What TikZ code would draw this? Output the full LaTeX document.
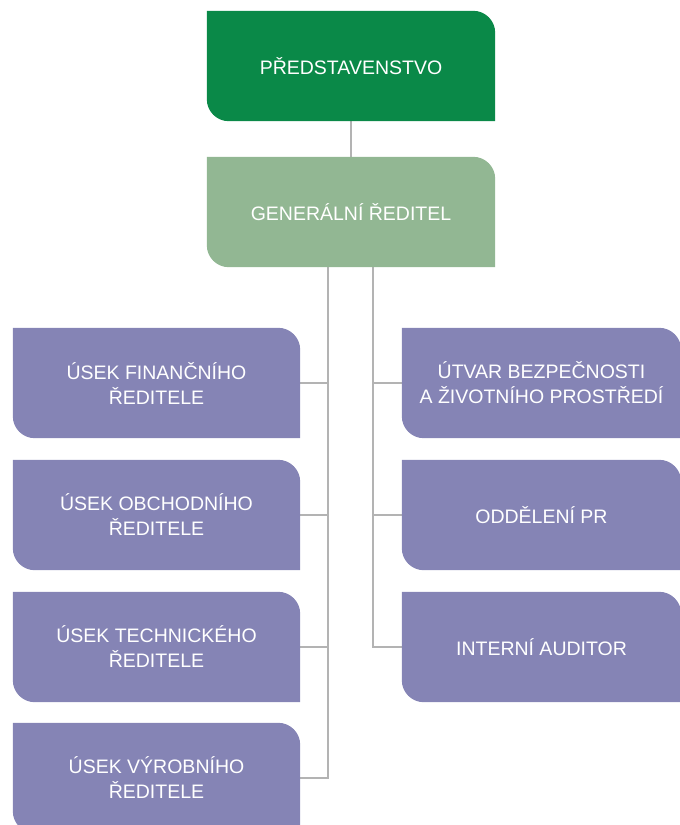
\documentclass[tikz,border=0pt]{standalone}
\usepackage{fontspec}
\setmainfont{Liberation Sans}
\usetikzlibrary{backgrounds}
\definecolor{topgreen}{HTML}{0A8948}
\definecolor{lightgreen}{HTML}{92B793}
\definecolor{boxpurple}{HTML}{8584B5}
\definecolor{linegray}{HTML}{B3B3B3}
\tikzset{
  leaf/.style={minimum height=110pt, inner sep=0pt, align=center, text=white,
    font=\fontsize{19.5}{25}\selectfont},
  topbox/.style={leaf, minimum width=288pt},
  leftbox/.style={leaf, minimum width=287pt},
  rightbox/.style={leaf, minimum width=279pt},
  conn/.style={draw=linegray, line width=1.8pt},
}
\newcommand{\leafshape}[2]{%
  \fill[#2] (#1.north west) -- ([xshift=-22pt]#1.north east)
    arc[start angle=90, end angle=0, radius=22pt] -- (#1.south east)
    -- ([xshift=22pt]#1.south west)
    arc[start angle=270, end angle=180, radius=22pt] -- cycle;}
\begin{document}
\begin{tikzpicture}[x=1pt, y=1pt]
\useasboundingbox (0,-825) rectangle (680,0);
\clip (0,-825) rectangle (680,0);
\node[topbox] (top) at (351,-66) {PŘEDSTAVENSTVO};
\node[topbox] (gen) at (351,-212) {GENERÁLNÍ ŘEDITEL};
\node[leftbox] (fin) at (156.5,-383) {ÚSEK FINANČNÍHO\\ŘEDITELE};
\node[leftbox] (obch) at (156.5,-515) {ÚSEK OBCHODNÍHO\\ŘEDITELE};
\node[leftbox] (tech) at (156.5,-647) {ÚSEK TECHNICKÉHO\\ŘEDITELE};
\node[leftbox] (vyr) at (156.5,-778) {ÚSEK VÝROBNÍHO\\ŘEDITELE};
\node[rightbox] (bezp) at (541.5,-383) {ÚTVAR BEZPEČNOSTI\\A ŽIVOTNÍHO PROSTŘEDÍ};
\node[rightbox] (pr) at (541.5,-515) {ODDĚLENÍ PR};
\node[rightbox] (aud) at (541.5,-647) {INTERNÍ AUDITOR};
\coordinate (lbus) at (328,-267);
\coordinate (rbus) at (373,-267);
\begin{scope}[on background layer]
  \draw[conn] (top.south) -- (gen.north);
  \draw[conn] (lbus) |- (vyr.east);
  \draw[conn] (fin.east) -- (fin.east -| lbus);
  \draw[conn] (obch.east) -- (obch.east -| lbus);
  \draw[conn] (tech.east) -- (tech.east -| lbus);
  \draw[conn] (rbus) |- (aud.west);
  \draw[conn] (bezp.west) -- (bezp.west -| rbus);
  \draw[conn] (pr.west) -- (pr.west -| rbus);
  \leafshape{top}{topgreen}
  \leafshape{gen}{lightgreen}
  \leafshape{fin}{boxpurple}
  \leafshape{obch}{boxpurple}
  \leafshape{tech}{boxpurple}
  \leafshape{vyr}{boxpurple}
  \leafshape{bezp}{boxpurple}
  \leafshape{pr}{boxpurple}
  \leafshape{aud}{boxpurple}
\end{scope}
\end{tikzpicture}
\end{document}
